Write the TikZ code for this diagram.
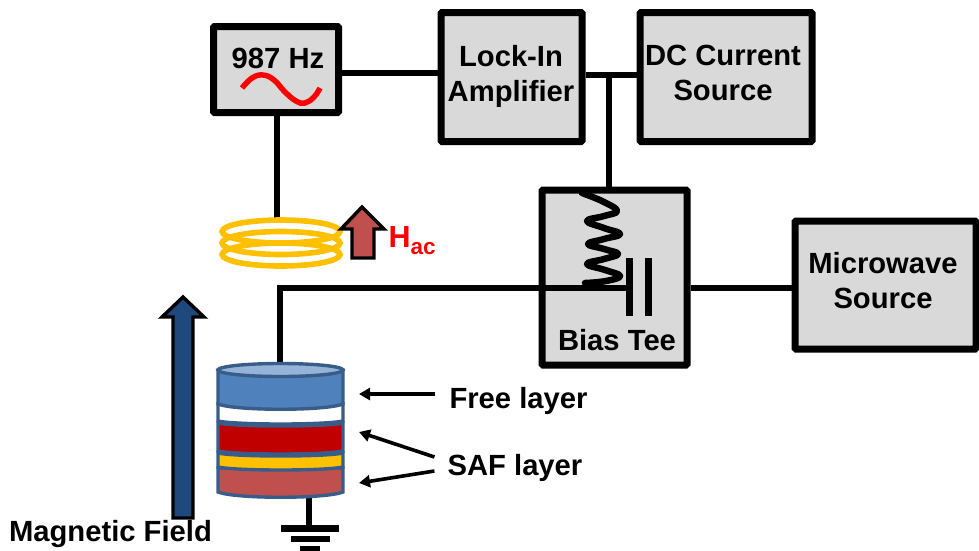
\documentclass[tikz,border=0pt]{standalone}
\usepackage{fontspec}
\setmainfont{Liberation Sans}
\usetikzlibrary{calc,arrows.meta}
\definecolor{boxgray}{HTML}{D9D9D9}
\definecolor{gold}{HTML}{FFC000}
\definecolor{brick}{HTML}{C0504D}
\definecolor{navy}{HTML}{1F497D}
\definecolor{stackline}{HTML}{385D8A}
\definecolor{stackblue}{HTML}{4F81BD}
\definecolor{stacktop}{HTML}{95B3D7}
\definecolor{deepred}{HTML}{C00000}
\tikzset{
  x=1pt,y=-1pt,
  label text/.style={font=\fontsize{29.2}{35}\selectfont\bfseries,align=center,inner sep=0pt,text=black},
  instrument/.style={draw=black,line width=7pt,fill=boxgray,rounded corners=1pt,inner sep=0pt,anchor=center},
  wire/.style={draw=black,line width=6.8pt},
  pointer/.style={draw=black,line width=3.6pt,-{Triangle[length=11pt,width=12pt]}},
  block arrow/.style={draw=black,line width=3.4pt,miter limit=10},
  layer/.style={fill=#1,draw=stackline,line width=3.4pt},
  coil/.style={draw=gold,line width=5.6pt},
}
\begin{document}
\begin{tikzpicture}
\useasboundingbox (0,0) rectangle (979,550);
\clip (0,0) rectangle (979,550);
% boxes
\node[instrument,minimum width=125pt,minimum height=86pt] (osc) at (276,69.5) {};
\node[instrument,minimum width=141pt,minimum height=129pt] (lock) at (511.5,77) {};
\node[instrument,minimum width=172pt,minimum height=129pt] (dc) at (726,77) {};
\node[instrument,minimum width=145pt,minimum height=175pt] (tee) at (614.5,277.5) {};
\node[instrument,minimum width=181pt,minimum height=128pt] (mw) at (885.5,285) {};
% helper points
\coordinate (coiltop) at (277,220);
\coordinate (branch) at (609,75);
\coordinate (teetop) at (609,190);
\coordinate (capL) at (629,288);
\coordinate (stacktopc) at (280,366);
\coordinate (corner) at (280,288);
\coordinate (stackbot) at (309,498);
\coordinate (gnd) at (309,528);
% wires
\draw[wire] (osc.east |- 0,73) -- (lock.west |- 0,73);
\draw[wire] (lock.east |- branch) -- (dc.west |- branch);
\draw[wire] (branch) -- (teetop);
\draw[wire] (osc.south -| coiltop) -- (coiltop);
\draw[wire] (stacktopc) -- (corner) -- (capL);
\draw[wire] (tee.east |- capL) -- (mw.west |- capL);
\draw[wire] (stackbot) -- (gnd);
% sine
\draw[draw=red,line width=5.5pt] plot[smooth,tension=.7] coordinates {(242,88) (252,78) (263,75) (274,80) (285,92) (296,101) (305,103) (314,97) (320,88)};
% spring
\draw[draw=black,line width=6.5pt,line cap=round,line join=round] plot[smooth,tension=.75] coordinates {(582,193) (604,202) (617,211) (604,216) (587,221) (604,228) (620,234) (604,239) (588,244) (604,249) (618,254) (604,259) (587,264) (605,270) (620,276) (606,281) (585,283)};
% capacitor
\draw[draw=black,line width=7pt] (629,258) -- (629,316);
\draw[draw=black,line width=7pt] (648,258) -- (648,316);
% coil
\foreach \yy in {254.5,243,231.5}
  \draw[coil] (281,\yy) ellipse[x radius=59,y radius=11.5];
% small arrow
\draw[block arrow,fill=brick] (362,207) -- (384,229) -- (374,229) -- (374,258) -- (352,258) -- (352,229) -- (341,229) -- cycle;
\node[inner sep=0pt,anchor=base west,text=red,font=\fontsize{30.5}{36}\selectfont\bfseries] (hac) at (388.5,247) {H\raisebox{-7pt}{\fontsize{22.5}{26}\selectfont ac}};
% field arrow
\draw[block arrow,fill=navy] (183,297) -- (204,317) -- (193,317) -- (193,518) -- (173,518) -- (173,317) -- (162,317) -- cycle;
% stack
\draw[layer=brick] (218,468) -- (343,468) -- (343,492) .. controls (325,499) and (236,499) .. (218,492) -- cycle;
\draw[layer=gold] (218,453) .. controls (236,457) and (325,457) .. (343,453) -- (343,467) .. controls (325,471) and (236,471) .. (218,467) -- cycle;
\draw[layer=deepred] (218,423) .. controls (236,427) and (325,427) .. (343,423) -- (343,451) .. controls (325,455) and (236,455) .. (218,451) -- cycle;
\draw[layer=white] (218,404) .. controls (236,408) and (325,408) .. (343,404) -- (343,421) .. controls (325,425) and (236,425) .. (218,421) -- cycle;
\draw[layer=stackblue] (218,370) -- (343,370) -- (343,404) .. controls (325,411) and (236,411) .. (218,404) -- cycle;
\draw[layer=stacktop] (280.5,370) ellipse[x radius=62.5,y radius=6.5];
% ground
\draw[draw=black,line width=6.5pt] (281,528.5) -- (339,528.5);
\draw[draw=black,line width=6.5pt] (291,539) -- (330,539);
\draw[draw=black,line width=6.5pt] (300,549) -- (320,549);
% texts
\node[label text] (t1) at (278,58) {987 Hz};
\node[label text] (t2) at (511,76.5) {Lock-In\\Amplifier};
\node[label text] (t3) at (723,73) {DC Current\\Source};
\node[label text] (t4) at (883,281) {Microwave\\Source};
\node[label text] (t5) at (617,340.5) {Bias Tee};
\node[label text] (free) at (518.5,401) {Free layer};
\node[label text] (saf) at (515,468) {SAF layer};
\node[label text] (field) at (110.5,534.5) {Magnetic Field};
% pointers
\coordinate (p1) at (359,394);
\coordinate (p2) at (359,432);
\coordinate (p3) at (359,483);
\draw[pointer] (free.west |- p1) ++(-14,0) -- (p1);
\draw[pointer] (saf.west) ++(-13,-11) -- (p2);
\draw[pointer] (saf.west) ++(-13,3) -- (p3);
\end{tikzpicture}
\end{document}
